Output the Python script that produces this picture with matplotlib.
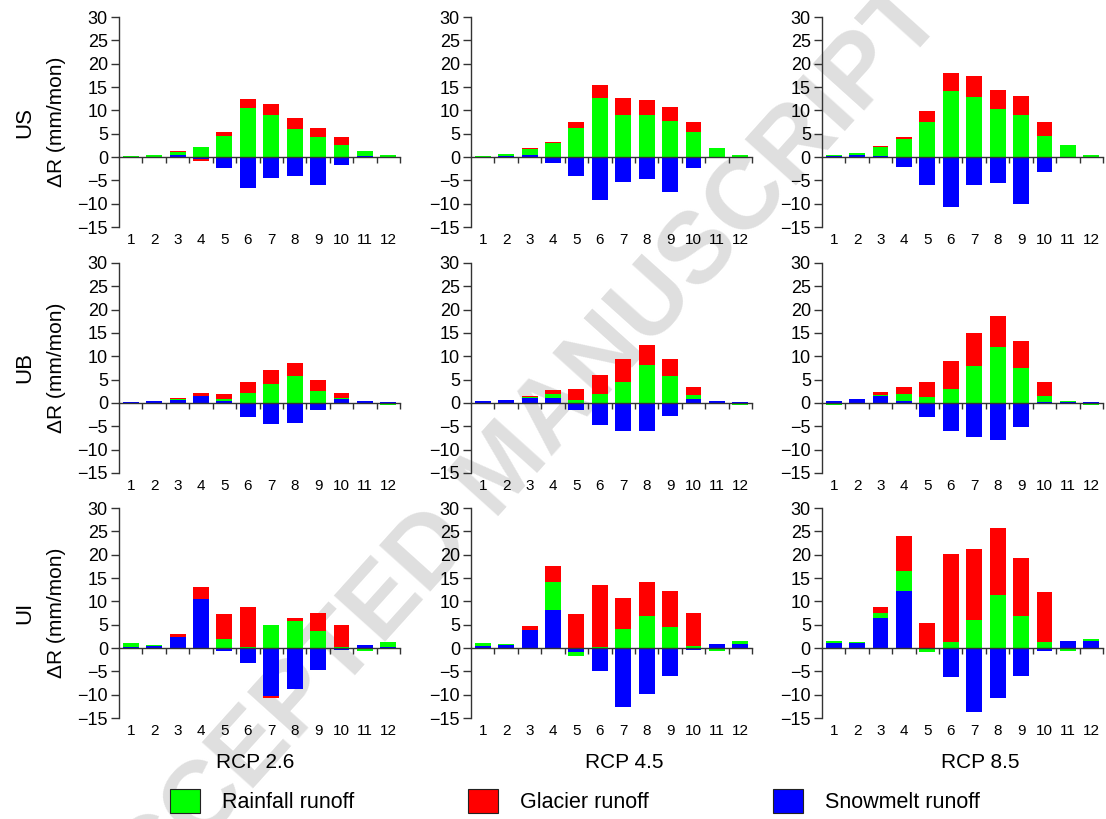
import numpy as np
import matplotlib
matplotlib.use("Agg")
import matplotlib.pyplot as plt
from matplotlib.patches import Patch
from matplotlib.transforms import blended_transform_factory

plt.rcParams['font.family'] = ['Liberation Sans', 'DejaVu Sans']

months = [str(m) for m in range(1, 13)]
regions = ['US', 'UB', 'UI']
scenarios = ['RCP 2.6', 'RCP 4.5', 'RCP 8.5']

# monthly change of runoff components (mm/mon)
snow_us_26 = [-0.05, 0.1, 0.4, -0.4, -2.4, -6.7, -4.6, -4.0, -6.0, -1.7, 0.2, 0.05]
rain_us_26 = [0.3, 0.3, 0.6, 2.1, 4.6, 10.6, 8.9, 6.0, 4.2, 2.6, 1.0, 0.3]
glac_us_26 = [0.0, 0.0, 0.2, -0.4, 0.8, 1.9, 2.4, 2.3, 2.1, 1.6, 0.0, 0.0]

snow_us_45 = [0.0, 0.3, 0.4, -1.2, -4.0, -9.2, -5.3, -4.8, -7.5, -2.3, 0.1, 0.0]
rain_us_45 = [0.3, 0.3, 1.3, 2.9, 6.2, 12.6, 9.1, 9.1, 7.8, 5.3, 1.8, 0.5]
glac_us_45 = [0.0, 0.0, 0.2, 0.3, 1.3, 2.8, 3.6, 3.1, 2.9, 2.1, 0.0, 0.0]

snow_us_85 = [0.2, 0.5, 0.3, -2.1, -6.0, -10.7, -6.0, -5.5, -10.0, -3.2, 0.0, 0.0]
rain_us_85 = [0.2, 0.3, 1.8, 3.8, 7.6, 14.2, 12.8, 10.2, 9.0, 4.6, 2.5, 0.5]
glac_us_85 = [0.0, 0.0, 0.3, 0.4, 2.2, 3.9, 4.6, 4.1, 4.0, 3.0, 0.0, 0.0]

snow_ub_26 = [0.3, 0.4, 0.6, 1.4, 0.5, -2.9, -4.4, -4.2, -1.4, 0.9, 0.4, 0.2]
rain_ub_26 = [-0.2, -0.2, 0.2, 0.2, 0.3, 2.1, 4.0, 5.7, 2.5, 0.2, 0.0, -0.4]
glac_ub_26 = [0.0, 0.0, 0.3, 0.6, 1.2, 2.3, 3.0, 2.8, 2.5, 1.0, 0.0, 0.0]

snow_ub_45 = [0.4, 0.6, 1.0, 1.1, -1.4, -4.8, -6.0, -6.1, -2.8, 0.8, 0.4, 0.2]
rain_ub_45 = [-0.3, -0.2, 0.2, 0.8, 0.7, 1.9, 4.4, 8.1, 5.8, 1.0, -0.1, -0.4]
glac_ub_45 = [0.0, 0.0, 0.4, 0.9, 2.2, 4.1, 5.0, 4.4, 3.7, 1.7, 0.0, 0.0]

snow_ub_85 = [0.5, 0.9, 1.5, 0.4, -3.1, -6.1, -7.2, -7.9, -5.1, 0.3, 0.2, 0.2]
rain_ub_85 = [-0.4, -0.2, 0.2, 1.5, 1.2, 3.0, 7.9, 12.1, 7.5, 1.3, 0.3, -0.4]
glac_ub_85 = [0.0, 0.0, 0.6, 1.6, 3.4, 6.0, 7.2, 6.5, 5.7, 2.8, 0.0, 0.0]

snow_ui_26 = [0.3, 0.5, 2.3, 10.4, -0.7, -3.3, -10.2, -8.7, -4.8, -0.4, 0.7, 0.3]
rain_ui_26 = [0.7, 0.2, 0.0, 0.0, 2.0, 0.3, 5.0, 5.7, 3.6, 0.3, -0.6, 1.0]
glac_ui_26 = [0.0, 0.0, 0.8, 2.6, 5.2, 8.4, -0.6, 0.8, 3.8, 4.7, 0.0, 0.0]

snow_ui_45 = [0.5, 0.6, 3.8, 8.2, -0.9, -4.9, -12.6, -9.8, -5.9, -0.4, 0.9, 0.8]
rain_ui_45 = [0.6, 0.2, 0.0, 6.0, -0.8, 0.3, 4.1, 6.9, 4.4, 0.4, -0.6, 0.7]
glac_ui_45 = [0.0, 0.0, 1.0, 3.4, 7.3, 13.1, 6.7, 7.2, 7.9, 7.2, 0.0, 0.0]

snow_ui_85 = [1.0, 1.1, 6.4, 12.2, 0.0, -6.2, -13.8, -10.7, -6.1, -0.7, 1.4, 1.4]
rain_ui_85 = [0.5, 0.2, 1.0, 4.3, -0.9, 1.3, 6.1, 11.3, 6.9, 1.3, -0.6, 0.6]
glac_ui_85 = [0.0, 0.0, 1.4, 7.4, 5.3, 18.9, 15.1, 14.5, 12.4, 10.7, 0.0, 0.0]

panels = [
    [(snow_us_26, rain_us_26, glac_us_26), (snow_us_45, rain_us_45, glac_us_45), (snow_us_85, rain_us_85, glac_us_85)],
    [(snow_ub_26, rain_ub_26, glac_ub_26), (snow_ub_45, rain_ub_45, glac_ub_45), (snow_ub_85, rain_ub_85, glac_ub_85)],
    [(snow_ui_26, rain_ui_26, glac_ui_26), (snow_ui_45, rain_ui_45, glac_ui_45), (snow_ui_85, rain_ui_85, glac_ui_85)],
]

c_rain, c_glac, c_snow = '#00ff00', '#ff0000', '#0000ff'
axcol = '#333333'

fig = plt.figure(figsize=(11.06, 8.19), dpi=100)

# watermark (it runs off the page in the original too)
fig.text(0.4566, 0.426, 'ACCEPTED MANUSCRIPT', rotation=48, rotation_mode='anchor',
         ha='center', va='center', fontsize=73, fontweight='bold', color='#dfdfdf', zorder=-5)

lefts = [0.1076, 0.4259, 0.7432]
bottoms = [0.7228, 0.4225, 0.1233]
w, h = 0.2541, 0.2564
x = np.arange(1, 13)

for r in range(3):
    for c in range(3):
        ax = fig.add_axes([lefts[c], bottoms[r], w, h])
        ax.set_facecolor('none')
        snow, rain, glac = [np.array(a) for a in panels[r][c]]
        pos = np.zeros(12)
        neg = np.zeros(12)
        for vals, col in [(snow, c_snow), (rain, c_rain), (glac, c_glac)]:
            bot = np.where(vals >= 0, pos, neg)
            ax.bar(x, vals, 0.68, bottom=bot, color=col, linewidth=0, zorder=2)
            pos = pos + np.clip(vals, 0, None)
            neg = neg + np.clip(vals, None, 0)

        ax.set_xlim(0.5, 12.5)
        ax.set_ylim(-15, 30)
        ax.set_yticks(range(-15, 31, 5))
        ax.spines['top'].set_visible(False)
        ax.spines['right'].set_visible(False)
        ax.spines['bottom'].set_position(('data', 0))
        for s in ['left', 'bottom']:
            ax.spines[s].set_color(axcol)
            ax.spines[s].set_linewidth(1)
            ax.spines[s].set_zorder(3)
        ax.set_xticks(np.arange(1.5, 13, 1))
        ax.set_xticklabels([])
        ax.tick_params(axis='x', direction='out', length=4, width=1, color=axcol)
        ax.tick_params(axis='y', direction='out', length=6, width=1, color=axcol,
                       labelsize=13, pad=2)
        trans = blended_transform_factory(ax.transData, ax.transAxes)
        for i, m in enumerate(months):
            ax.text(x[i], -0.062, m, transform=trans, ha='center', va='center', fontsize=11)

    yc = bottoms[r] + h / 2
    fig.text(0.0226, yc, regions[r], rotation=90, ha='center', va='center', fontsize=16)
    fig.text(0.0515, yc, '\u0394R (mm/mon)', rotation=90, ha='center', va='center', fontsize=15)

narrow = ['Liberation Sans Narrow', 'Liberation Sans', 'DejaVu Sans']
for xc, t in zip([255, 624, 980], scenarios):
    fig.text(xc / 1106, 1 - 762 / 819, t, ha='center', va='center', fontsize=15, family=narrow)

labels = ['Rainfall runoff', 'Glacier runoff', 'Snowmelt runoff']
colors = [c_rain, c_glac, c_snow]
for xl, lab, col in zip([170, 468, 773], labels, colors):
    fig.legend(handles=[Patch(facecolor=col, edgecolor='#222222', linewidth=0.8, label=lab)],
               loc='center left', bbox_to_anchor=(xl / 1106, 1 - 801 / 819),
               frameon=False, borderpad=0, borderaxespad=0, handlelength=1.4,
               handleheight=1.35, handletextpad=1.0, prop={'family': narrow, 'size': 15.5})

fig.savefig('out.png', dpi=100)
